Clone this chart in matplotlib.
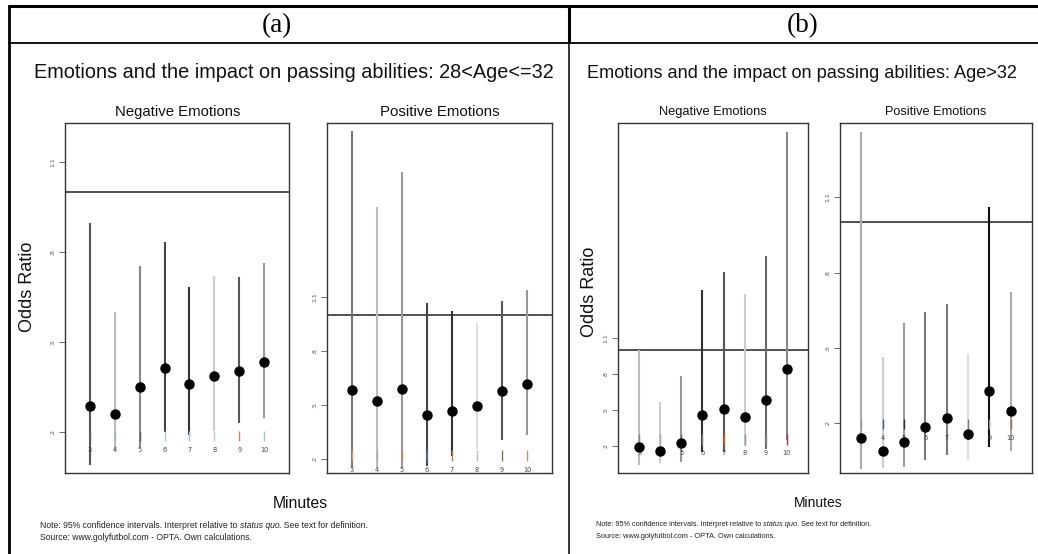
import matplotlib
matplotlib.use("Agg")
import matplotlib.pyplot as plt
from matplotlib import font_manager
from matplotlib.lines import Line2D

# ---------------- data ----------------
minutes = [3, 4, 5, 6, 7, 8, 9, 10]
ytick_vals = [0.2, 0.5, 0.8, 1.1]
ytick_labels = [".2", ".5", ".8", "1.1"]

neg_a_or = [0.288, 0.259, 0.351, 0.412, 0.359, 0.387, 0.404, 0.432]
neg_a_lo = [0.09, 0.14, 0.15, 0.20, 0.19, 0.203, 0.23, 0.247]
neg_a_hi = [0.896, 0.599, 0.754, 0.834, 0.682, 0.721, 0.718, 0.762]

pos_a_or = [0.582, 0.522, 0.589, 0.444, 0.467, 0.493, 0.576, 0.615]
pos_a_lo = [0.15, 0.15, 0.15, 0.16, 0.213, 0.254, 0.307, 0.332]
pos_a_hi = [2.018, 1.597, 1.791, 1.067, 1.021, 0.956, 1.078, 1.137]

neg_b_or = [0.197, 0.161, 0.231, 0.461, 0.508, 0.447, 0.586, 0.842]
neg_b_lo = [0.044, 0.06, 0.07, 0.15, 0.15, 0.20, 0.18, 0.252]
neg_b_hi = [1.0, 0.569, 0.789, 1.503, 1.655, 1.469, 1.789, 2.822]

pos_b_or = [0.138, 0.088, 0.122, 0.183, 0.219, 0.156, 0.329, 0.248]
pos_b_lo = [0.014, 0.018, 0.023, 0.05, 0.073, 0.05, 0.105, 0.086]
pos_b_hi = [1.363, 0.463, 0.60, 0.641, 0.673, 0.476, 1.062, 0.722]

panel_titles = ["Emotions and the impact on passing abilities: 28<Age<=32",
                "Emotions and the impact on passing abilities: Age>32"]
sub_titles = ["Negative Emotions", "Positive Emotions"]
note1_a = "Note: 95% confidence intervals. Interpret relative to "
note1_b = "status quo"
note1_c = ". See text for definition."
note2 = "Source: www.golyfutbol.com - OPTA. Own calculations."

# ---------------- styles ----------------
W, H = 1038, 554
names = {f.name for f in font_manager.fontManager.ttflist}
NARROW = "Liberation Sans Narrow" if "Liberation Sans Narrow" in names else "Liberation Sans"
SERIF = "Liberation Serif"

fig = plt.figure(figsize=(W / 100, H / 100), dpi=100)
fig.patch.set_facecolor("white")


def box(x0, y0, x1, y1):
    return [x0 / W, 1 - y1 / H, (x1 - x0) / W, (y1 - y0) / H]


def fx(x):
    return x / W


def fy(y):
    return 1 - y / H


def fig_line(x0, y0, x1, y1, lw):
    fig.add_artist(Line2D([fx(x0), fx(x1)], [fy(y0), fy(y1)], color="black",
                          lw=lw, transform=fig.transFigure, solid_capstyle="butt"))


# table lines
fig_line(7.5, 5.5, 1038, 5.5, 2.2)
fig_line(8.5, 4.5, 8.5, 554, 2.0)
fig_line(7.5, 43, 1038, 43, 1.3)
fig_line(569, 4.5, 569, 43, 2.2)
fig_line(569, 43, 569, 554, 1.1)

fig.text(fx(277), fy(26), "(a)", family=SERIF, fontsize=19.5, ha="center", va="center")
fig.text(fx(803), fy(26), "(b)", family=SERIF, fontsize=19.5, ha="center", va="center")

panels = [
    dict(rect=box(65, 123, 289, 473), ylim=(0.063, 1.23), orv=neg_a_or, lo=neg_a_lo, hi=neg_a_hi,
         cols=["#555555", "#bbbbbb", "#888888", "#444444", "#333333", "#cccccc", "#555555", "#999999"],
         tcols=["#556677", "#99bbcc", "#665555", "#aacccc", "#99c4dd", "#aaccdd", "#cc8866", "#99c4d4"],
         title=sub_titles[0], tx=177.5, tfs=10.7),
    dict(rect=box(327, 123, 552, 473), ylim=(0.121, 2.065), orv=pos_a_or, lo=pos_a_lo, hi=pos_a_hi,
         cols=["#777777", "#bbbbbb", "#999999", "#444444", "#333333", "#dddddd", "#555555", "#999999"],
         tcols=["#cc9966", "#aaaaaa", "#cc8855", "#5588aa", "#cc7744", "#bbbbbb", "#996655", "#aa9988"],
         title=sub_titles[1], tx=439.5, tfs=10.8),
    dict(rect=box(618, 123, 808, 473), ylim=(-0.0225, 2.894), orv=neg_b_or, lo=neg_b_lo, hi=neg_b_hi,
         cols=["#bbbbbb", "#cccccc", "#999999", "#333333", "#555555", "#cccccc", "#666666", "#888888"],
         tcols=["#888888", "#aaaaaa", "#666666", "#777777", "#cc6622", "#7799bb", "#888888", "#aa3344"],
         title=sub_titles[0], tx=713, tfs=9.3),
    dict(rect=box(840, 123, 1032, 473), ylim=(0.0, 1.397), orv=pos_b_or, lo=pos_b_lo, hi=pos_b_hi,
         cols=["#aaaaaa", "#cccccc", "#999999", "#777777", "#777777", "#dddddd", "#111111", "#aaaaaa"],
         tcols=["#999999", "#336699", "#333333", "#aa7755", "#999999", "#777777", "#888888", "#aa6633"],
         title=sub_titles[1], tx=936, tfs=9.2),
]

for p in panels:
    ax = fig.add_axes(p["rect"])
    ax.set_xlim(2, 11)
    ax.set_ylim(*p["ylim"])
    ax.axhline(1.0, color="#222222", lw=1.1, zorder=1)
    ax.vlines(minutes, p["lo"], p["hi"], colors=p["cols"], lw=1.5, zorder=2)
    # in-plot minute labels with short coloured marks
    lab_y = 0.14
    span = p["ylim"][1] - p["ylim"][0]
    ax.vlines(minutes, lab_y + 0.025 * span, lab_y + 0.055 * span, colors=p["tcols"], lw=1.0, zorder=2)
    for m, c in zip(minutes, p["tcols"]):
        ax.text(m, lab_y, str(m), fontsize=4.8, ha="center", va="center", color="#444444", zorder=2)
    ax.plot(minutes, p["orv"], "o", color="black", ms=6.5, zorder=3)
    ax.set_xticks([])
    ax.set_yticks(ytick_vals)
    ax.set_yticklabels(ytick_labels, rotation=90, va="center", fontsize=4.5, color="#555555")
    ax.tick_params(axis="y", length=4, width=0.6, color="#555555", pad=3)
    for s in ax.spines.values():
        s.set_color("#333333")
        s.set_linewidth(1.0)
    fig.text(fx(p["tx"]), fy(112), p["title"], family=NARROW, fontsize=p["tfs"],
             ha="center", va="center", color="#111111")

# panel titles
fig.text(fx(294), fy(73), panel_titles[0], family=NARROW, fontsize=14.3, ha="center", va="center", color="#111111")
fig.text(fx(802), fy(73), panel_titles[1], family=NARROW, fontsize=13.1, ha="center", va="center", color="#111111")

# axis labels
fig.text(fx(28), fy(287), "Odds Ratio", family=NARROW, fontsize=13, rotation=90, ha="center", va="center", color="#111111")
fig.text(fx(590), fy(292), "Odds Ratio", family=NARROW, fontsize=13, rotation=90, ha="center", va="center", color="#111111")
fig.text(fx(300), fy(503), "Minutes", family=NARROW, fontsize=11.3, ha="center", va="center", color="#111111")
fig.text(fx(818), fy(503), "Minutes", family=NARROW, fontsize=10, ha="center", va="center", color="#111111")

# notes
for x0, fs in [(40, 6.2), (596, 5.35)]:
    t = fig.text(fx(x0), fy(525), note1_a, family=NARROW, fontsize=fs, ha="left", va="center", color="#222222")
    fig.canvas.draw()
    r = fig.canvas.get_renderer()
    bb = t.get_window_extent(r)
    t2 = fig.text(bb.x1 / W, fy(525), note1_b, family=NARROW, fontsize=fs, style="italic",
                  ha="left", va="center", color="#222222")
    bb2 = t2.get_window_extent(r)
    fig.text(bb2.x1 / W, fy(525), note1_c, family=NARROW, fontsize=fs, ha="left", va="center", color="#222222")
    fig.text(fx(x0), fy(537), note2, family=NARROW, fontsize=fs, ha="left", va="center", color="#222222")

fig.savefig("out.png", dpi=100, facecolor="white")
